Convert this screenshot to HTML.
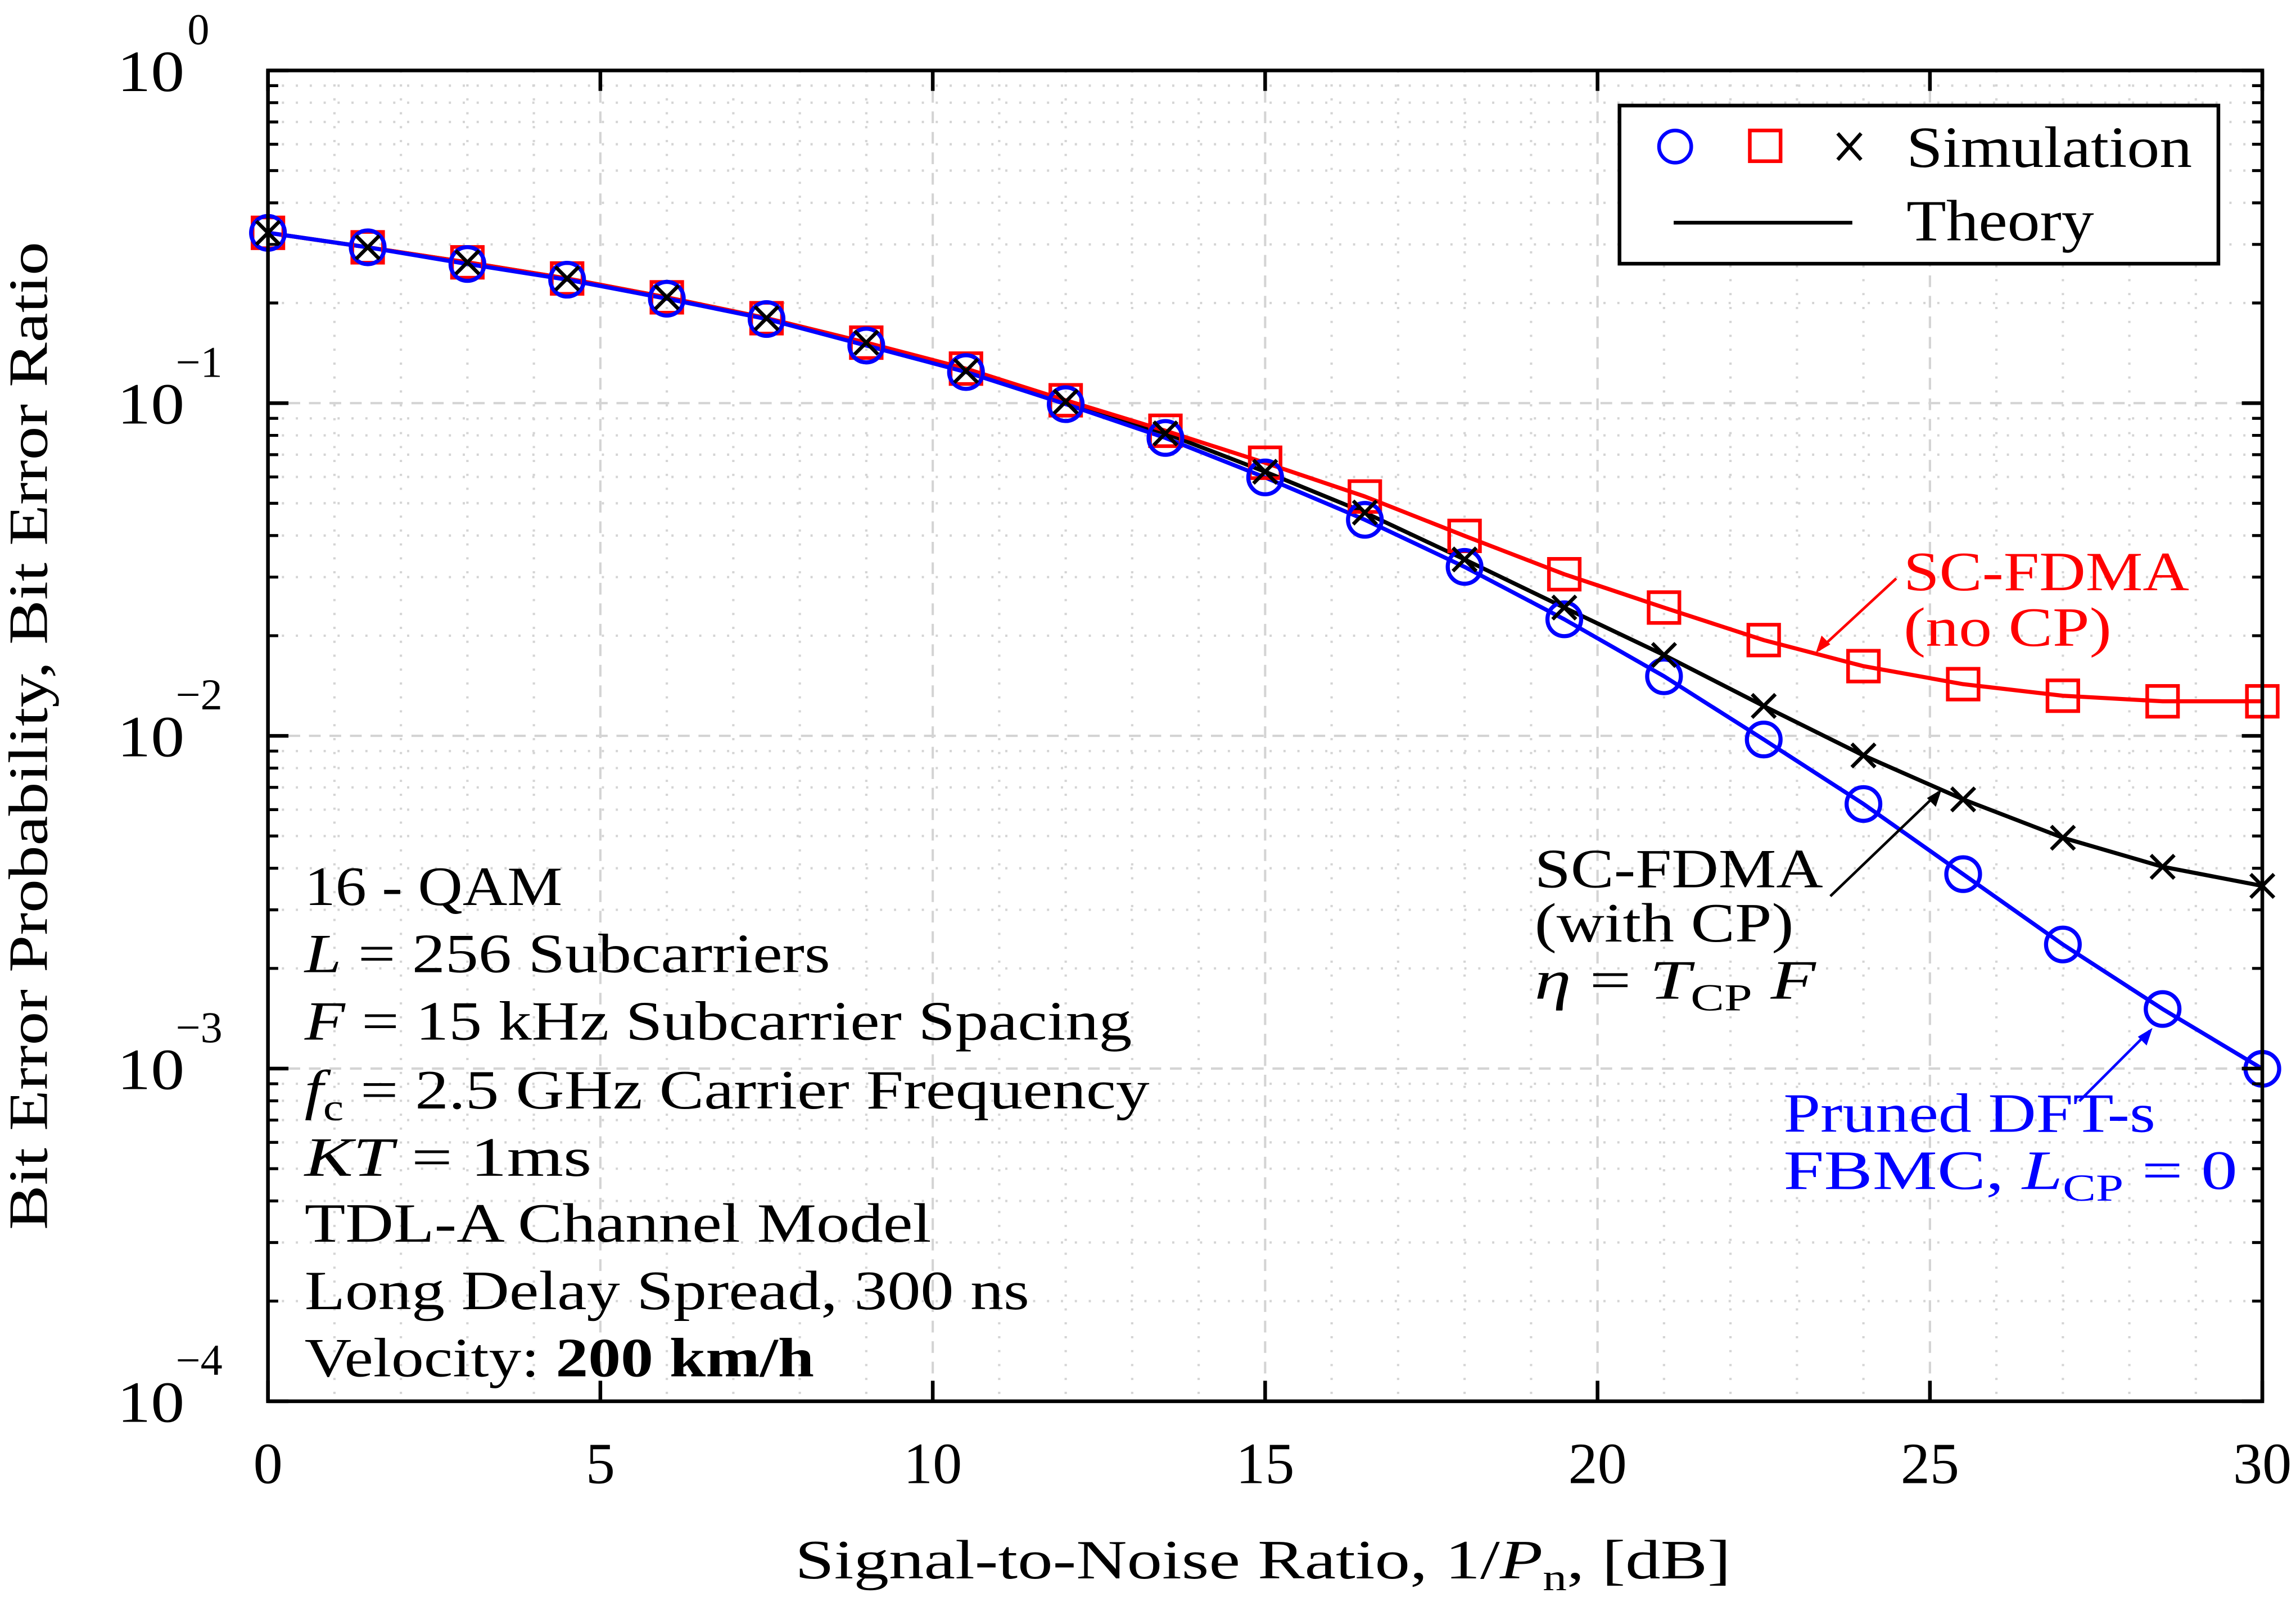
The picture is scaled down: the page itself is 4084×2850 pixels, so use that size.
<!DOCTYPE html>
<html><head><meta charset="utf-8">
<style>
html,body{margin:0;padding:0;background:#fff;}
svg{display:block;}
text{font-family:"Liberation Serif",serif;}
</style></head>
<body>
<svg id="chart" width="4084" height="2850" viewBox="0 0 1568 1094" xmlns="http://www.w3.org/2000/svg">
<g id="grid"></g>
<g id="series"></g>
<rect x="183" y="48" width="1362" height="909" fill="none" stroke="#000" stroke-width="2.5"/>
<g id="ticks"></g>
<text x="543" y="1078" font-size="38" textLength="639" lengthAdjust="spacingAndGlyphs">Signal-to-Noise Ratio, 1/<tspan font-style="italic">P</tspan><tspan font-size="26" dy="8">n</tspan><tspan dy="-8">, [dB]</tspan></text>
<text transform="translate(32,840) rotate(-90)" font-size="38" textLength="675" lengthAdjust="spacingAndGlyphs">Bit Error Probability, Bit Error Ratio</text>
<g>
<rect x="1106" y="72" width="409" height="108" fill="#fff" stroke="#000" stroke-width="2.5"/>
<circle cx="1144" cy="100" r="11" fill="none" stroke="#0000ff" stroke-width="2.5"/>
<rect x="1195" y="89" width="21" height="21" fill="none" stroke="#ff0000" stroke-width="2.5"/>
<path d="M1255 91 L1271 109 M1271 91 L1255 109" stroke="#000" stroke-width="2.5"/>
<text x="1302" y="114" font-size="40" textLength="195" lengthAdjust="spacingAndGlyphs">Simulation</text>
<line x1="1143" y1="152" x2="1265" y2="152" stroke="#000" stroke-width="2.5"/>
<text x="1302" y="164" font-size="40" textLength="128" lengthAdjust="spacingAndGlyphs">Theory</text>
</g>
<g font-size="38">
<text x="208" y="618" textLength="176" lengthAdjust="spacingAndGlyphs">16 - QAM</text>
<text x="208" y="664" textLength="359" lengthAdjust="spacingAndGlyphs"><tspan font-style="italic">L</tspan> = 256 Subcarriers</text>
<text x="208" y="710" textLength="565" lengthAdjust="spacingAndGlyphs"><tspan font-style="italic">F</tspan> = 15 kHz Subcarrier Spacing</text>
<text x="208" y="757" textLength="577" lengthAdjust="spacingAndGlyphs"><tspan font-style="italic">f</tspan><tspan font-size="26" dy="8">c</tspan><tspan dy="-8"> = 2.5 GHz Carrier Frequency</tspan></text>
<text x="208" y="803" textLength="196" lengthAdjust="spacingAndGlyphs"><tspan font-style="italic">KT</tspan> = 1ms</text>
<text x="208" y="848" textLength="428" lengthAdjust="spacingAndGlyphs">TDL-A Channel Model</text>
<text x="208" y="894" textLength="495" lengthAdjust="spacingAndGlyphs">Long Delay Spread, 300 ns</text>
<text x="208" y="940" textLength="348" lengthAdjust="spacingAndGlyphs">Velocity: <tspan font-weight="bold">200 km/h</tspan></text>
</g>
<g fill="#ff0000" font-size="38">
<text x="1300" y="403" textLength="195" lengthAdjust="spacingAndGlyphs">SC-FDMA</text><text x="1300" y="441" textLength="142" lengthAdjust="spacingAndGlyphs">(no CP)</text>
<line x1="1295" y1="395" x2="1242" y2="444" stroke="#ff0000" stroke-width="1.8"/>
<path d="M1240 446 L1244 434 L1250 440 Z"/>
</g>
<g font-size="38">
<text x="1048" y="606" textLength="197" lengthAdjust="spacingAndGlyphs">SC-FDMA</text><text x="1048" y="643" textLength="177" lengthAdjust="spacingAndGlyphs">(with CP)</text>
<text x="1048" y="682" textLength="192" lengthAdjust="spacingAndGlyphs"><tspan font-style="italic">η</tspan> = <tspan font-style="italic">T</tspan><tspan font-size="26" dy="8">CP</tspan><tspan dy="-8" font-style="italic"> F</tspan></text>
<line x1="1250" y1="612" x2="1324" y2="541" stroke="#000" stroke-width="1.8"/>
<path d="M1326 539 L1322 551 L1316 545 Z"/>
</g>
<g fill="#0000ff" font-size="38">
<text x="1218" y="773" textLength="254" lengthAdjust="spacingAndGlyphs">Pruned DFT-s</text>
<text x="1218" y="812" textLength="310" lengthAdjust="spacingAndGlyphs">FBMC, <tspan font-style="italic">L</tspan><tspan font-size="26" dy="8">CP</tspan><tspan dy="-8"> = 0</tspan></text>
<line x1="1420" y1="752" x2="1468" y2="704" stroke="#0000ff" stroke-width="1.8"/>
<path d="M1470 702 L1466 714 L1460 708 Z"/>
</g>
</svg>
<script>
const snr = [0,1.5,3,4.5,6,7.5,9,10.5,12,13.5,15,16.5,18,19.5,21,22.5,24,25.5,27,28.5,30];
const berFbmc = [0.325,0.294,0.262,0.235,0.206,0.179,0.149,0.124,0.0993,0.0786,0.0598,0.0446,0.0322,0.0224,0.0151,0.00975,0.00624,0.00384,0.00236,0.00151,0.000998];
const berNoCp = [0.325,0.294,0.265,0.237,0.208,0.180,0.152,0.127,0.102,0.0826,0.0662,0.0524,0.0399,0.0306,0.0243,0.0194,0.0162,0.0143,0.0132,0.0127,0.0127];
const berWithCp = [0.325,0.294,0.265,0.237,0.208,0.180,0.152,0.125,0.101,0.0811,0.0622,0.0469,0.0339,0.0243,0.0175,0.0123,0.00873,0.00644,0.00494,0.00404,0.00354];
const xTicks = [0,5,10,15,20,25,30];
const yExps = [0,-1,-2,-3,-4];

const X0=183,X1=1545,Y0=48,Y1=957;
const xs = v => X0 + (v-0)/(30-0)*(X1-X0);
const ys = v => Y0 + (0-Math.log10(v))/4*(Y1-Y0);
const NS='http://www.w3.org/2000/svg';
function mk(tag, attrs, parent){const e=document.createElementNS(NS,tag);for(const k in attrs)e.setAttribute(k,attrs[k]);parent.appendChild(e);return e;}
const grid=document.getElementById('grid'), ticks=document.getElementById('ticks'), ser=document.getElementById('series');

for(let v=1;v<30;v++){
  const major = v%5===0;
  const l=mk('line',{x1:xs(v),x2:xs(v),y1:Y0,y2:Y1,stroke:'#d4d4d4','stroke-width':1.6,'stroke-dasharray':major?'8 6':'1.5 8'},grid);
  
  
}
for(let e=0;e>-4;e--){
  for(let m=2;m<10;m++){
    const v=m*Math.pow(10,e-1);
    const y=ys(v);
    const l=mk('line',{x1:X0,x2:X1,y1:y,y2:y,stroke:'#d4d4d4','stroke-width':1.6,'stroke-dasharray':'1.5 8'},grid);
    
    
    const t1=mk('line',{x1:X0,x2:X0+7,y1:y,y2:y,stroke:'#000','stroke-width':2},ticks);
    
    
    const t2=mk('line',{x1:X1,x2:X1-7,y1:y,y2:y,stroke:'#000','stroke-width':2},ticks);
    
    
  }
}
yExps.forEach(e=>{
  const y=ys(Math.pow(10,e));
  if(e!==0&&e!==-4){
    const l=mk('line',{x1:X0,x2:X1,y1:y,y2:y,stroke:'#d4d4d4','stroke-width':1.6,'stroke-dasharray':'8 6'},grid);
    
    
  }
  const t=mk('line',{x1:X0,x2:X0+14,y1:y,y2:y,stroke:'#000','stroke-width':2.5},ticks);
  
  
  const t2=mk('line',{x1:X1,x2:X1-14,y1:y,y2:y,stroke:'#000','stroke-width':2.5},ticks);
  
  
  const tx=mk('text',{x:80,y:y+14,'font-size':40,textLength:46,lengthAdjust:'spacingAndGlyphs'},ticks);
  
  
  tx.textContent='10';
  const sx=mk('text',{x:e===0?128:120,y:y-18,'font-size':30},ticks);
  
  
  sx.textContent = e===0 ? '0' : '\u2212'+(-e);
});
xTicks.forEach(v=>{
  const x=xs(v);
  const t=mk('line',{x1:x,x2:x,y1:Y1,y2:Y1-14,stroke:'#000','stroke-width':2.5},ticks);
  
  
  const t2=mk('line',{x1:x,x2:x,y1:Y0,y2:Y0+14,stroke:'#000','stroke-width':2.5},ticks);
  
  
  const tx=mk('text',{x:x,y:1013,'font-size':40,'text-anchor':'middle'},ticks);
  
  
  tx.textContent=String(v);
});

function line(data,color,name){
  const d=data.map((v,i)=>(i?'L':'M')+xs(snr[i]).toFixed(1)+' '+ys(v).toFixed(1)).join(' ');
  const p=mk('path',{d:d,fill:'none',stroke:color,'stroke-width':2.8,'stroke-linejoin':'round'},ser);
  
  
}
line(berWithCp,'#000','theory-with-cp');
line(berNoCp,'#ff0000','theory-no-cp');
line(berFbmc,'#0000ff','theory-fbmc');
berNoCp.forEach((v,i)=>{
  const r=mk('rect',{x:xs(snr[i])-10.5,y:ys(v)-10.5,width:21,height:21,fill:'none',stroke:'#ff0000','stroke-width':2.5},ser);
  
  
});
berFbmc.forEach((v,i)=>{
  const c=mk('circle',{cx:xs(snr[i]),cy:ys(v),r:11.5,fill:'none',stroke:'#0000ff','stroke-width':2.8},ser);
  
  
});
berWithCp.forEach((v,i)=>{
  const x=xs(snr[i]),y=ys(v);
  const p=mk('path',{d:`M${x-8} ${y-8} L${x+8} ${y+8} M${x+8} ${y-8} L${x-8} ${y+8}`,stroke:'#000','stroke-width':2.5},ser);
  
  
});
</script>
</body></html>
